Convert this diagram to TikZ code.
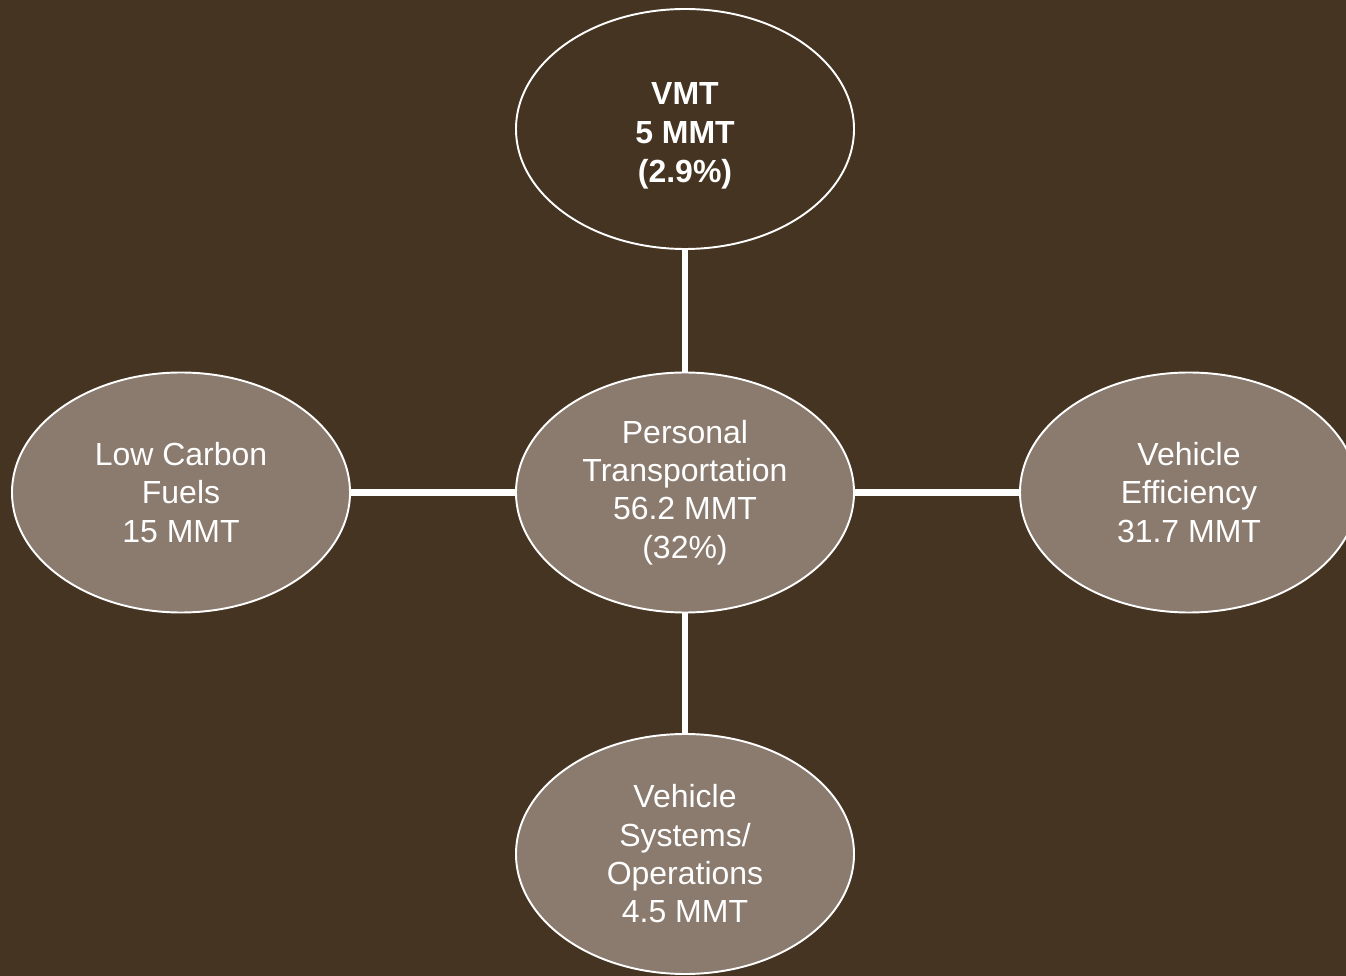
\documentclass[tikz,border=0pt]{standalone}
\usepackage{fontspec}
\setmainfont{Liberation Sans}
\usetikzlibrary{shapes.geometric}
\definecolor{bgbrown}{HTML}{453421}
\definecolor{taupe}{HTML}{8B7B6F}
\begin{document}
\begin{tikzpicture}[
  oval/.style={ellipse, draw=white, line width=1.1pt, fill=taupe, text=white,
    minimum width=6.76cm, minimum height=4.8cm, inner sep=0pt, align=center,
    font=\fontsize{18.2}{21.8}\selectfont},
  link/.style={white, line width=3.6pt}]
\useasboundingbox (0,0) rectangle (26.92,-19.52);
\fill[bgbrown] (0,0) rectangle (26.92,-19.52);
\clip (0,0) rectangle (26.92,-19.52);
\node[oval] (pt) at (13.7,-9.85){Personal\\Transportation\\56.2 MMT\\(32\%)};
\node[oval, fill=bgbrown, font=\fontsize{18.2}{22.2}\selectfont\bfseries] (vmt) at (13.7,-2.58){\rule{0pt}{0.7cm}VMT\\5 MMT\\(2.9\%)};
\node[oval] (lcf) at (3.62,-9.85){Low Carbon\\Fuels\\15 MMT};
\node[oval] (veff) at (23.78,-9.85){Vehicle\\Efficiency\\31.7 MMT};
\node[oval] (vsys) at (13.7,-17.08){Vehicle\\Systems/\\Operations\\4.5 MMT};
\draw[link](pt) -- (vmt);
\draw[link](pt) -- (lcf);
\draw[link](pt) -- (veff);
\draw[link](pt) -- (vsys);
\end{tikzpicture}
\end{document}
